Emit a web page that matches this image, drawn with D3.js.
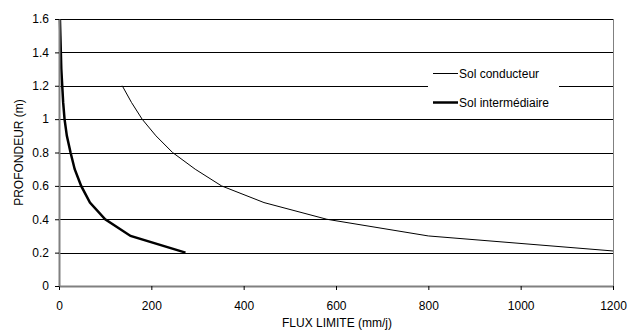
<!DOCTYPE html>
<html><head><meta charset="utf-8">
<script src="https://cdn.jsdelivr.net/npm/d3@7"></script>
<style>body{margin:0;background:#fff}text{font-family:"Liberation Sans",Arial,sans-serif;fill:#000}</style>
</head><body><svg id="c" width="629" height="331"></svg>
<script>
const depthCond = [1.2, 1.1, 1.0, 0.9, 0.8, 0.7, 0.6, 0.5, 0.4, 0.3, 0.21];
const fluxCond  = [137, 157, 180, 210, 246, 295, 352, 444, 580, 800, 1200];
const depthInt = [1.6, 1.5, 1.4, 1.3, 1.2, 1.1, 1.0, 0.9, 0.8, 0.7, 0.6, 0.5, 0.4, 0.3, 0.2];
const fluxInt  = [2, 3, 4, 5, 7, 9, 12, 17, 25, 34, 48, 67, 100, 155, 274];
const xTicks = [0, 200, 400, 600, 800, 1000, 1200];
const yTicks = [0, 0.2, 0.4, 0.6, 0.8, 1, 1.2, 1.4, 1.6];
const seriesNames = ["Sol conducteur", "Sol intermédiaire"];

const svg = d3.select("#c");
const L = 59, R = 613, T = 19, B = 286;
const x = d3.scaleLinear().domain([0, 1200]).range([L, R]);
const y = d3.scaleLinear().domain([0, 1.6]).range([B, T]);

svg.append("g").selectAll("line").data(yTicks.filter(d => d > 0)).join("line")
  .attr("x1", L).attr("x2", R).attr("y1", d => Math.round(y(d)) + 0.5).attr("y2", d => Math.round(y(d)) + 0.5)
  .attr("stroke", "#000").attr("stroke-width", 1);
svg.append("line").attr("x1", R + 0.5).attr("x2", R + 0.5).attr("y1", T).attr("y2", B)
  .attr("stroke", "#808080");

const line = d3.line().x(d => x(d[0])).y(d => y(d[1]));
svg.append("path").datum(fluxCond.map((f, i) => [f, depthCond[i]]))
  .attr("d", line).attr("fill", "none").attr("stroke", "#000").attr("stroke-width", 1);
svg.append("path").datum(fluxInt.map((f, i) => [f, depthInt[i]]))
  .attr("d", line).attr("fill", "none").attr("stroke", "#000").attr("stroke-width", 2.5);

const xAxis = svg.append("g").attr("transform", `translate(0,${B})`)
  .call(d3.axisBottom(x).tickValues(xTicks).tickSize(4).tickSizeOuter(0).tickPadding(11).tickFormat(d3.format("d")));
const yAxis = svg.append("g").attr("transform", `translate(${L},0)`)
  .call(d3.axisLeft(y).tickValues(yTicks).tickSize(4).tickSizeOuter(0).tickPadding(6).tickFormat(d => String(d)));
[xAxis, yAxis].forEach(g => {
  g.select(".domain").attr("stroke", "#808080").attr("stroke-width", 2);
  g.selectAll(".tick line").attr("stroke", "#000");
  g.selectAll("text").style("font-family", '"Liberation Sans",Arial,sans-serif').style("font-size", "12px").attr("fill", "#000");
});

svg.append("text").attr("x", (L + R) / 2 + 1).attr("y", 327).attr("text-anchor", "middle")
  .style("font-size", "12px").text("FLUX LIMITE (mm/j)");
svg.append("text").attr("transform", `translate(23,${(T + B) / 2}) rotate(-90)`).attr("text-anchor", "middle")
  .style("font-size", "12px").text("PROFONDEUR (m)");

const lg = svg.append("g");
lg.append("rect").attr("x", 428).attr("y", 60).attr("width", 131).attr("height", 55).attr("fill", "#fff");
seriesNames.forEach((n, i) => {
  const yy = 73.5 + i * 29;
  lg.append("line").attr("x1", 433).attr("x2", 458).attr("y1", yy).attr("y2", yy)
    .attr("stroke", "#000").attr("stroke-width", i === 0 ? 1 : 2.5);
  lg.append("text").attr("x", 459).attr("y", yy + 4).style("font-size", "12px").text(n);
});
</script></body></html>
